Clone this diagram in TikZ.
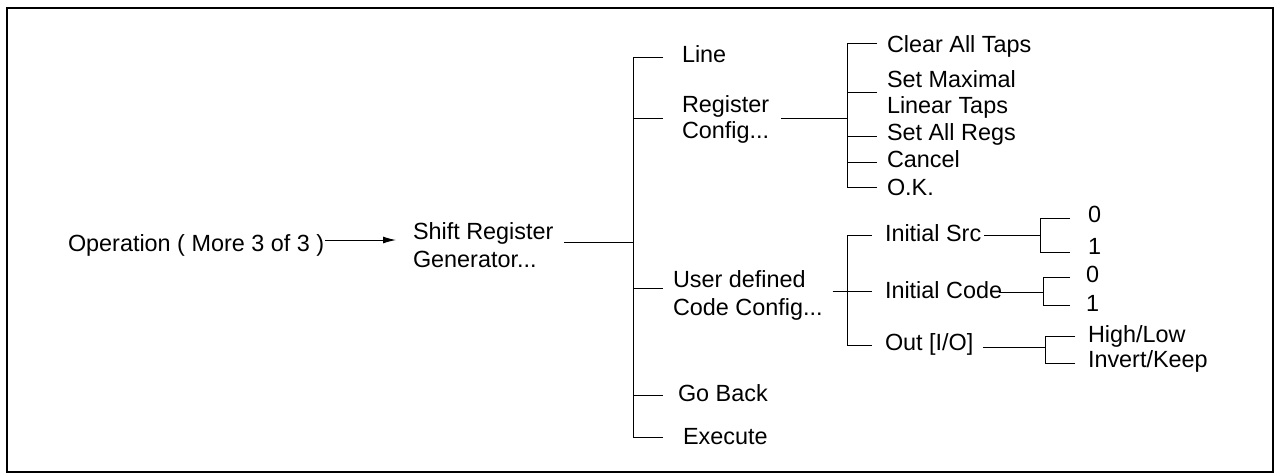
\documentclass[tikz,border=0pt]{standalone}
\usepackage{fontspec}
\setmainfont{Liberation Sans}
\usetikzlibrary{arrows.meta}
\begin{document}
\begin{tikzpicture}[x=1pt,y=-1pt,
  lbl/.style={anchor=base west,inner sep=0pt,outer sep=0pt,font=\fontsize{23.4}{26}\selectfont,align=left},
  wire/.style={line width=1pt,black}]
\useasboundingbox (0,0) rectangle (1280,475);
\draw[line width=2.5pt] (7,8) rectangle (1273,472);

% texts (base anchor of a multi-line node = baseline of its last line)
\node[lbl] (op) at (68,251) {Operation ( More 3 of 3 )};
\node[lbl,font=\fontsize{23.4}{28}\selectfont] (srg) at (413,267) {Shift Register\\Generator...};
\node[lbl] (ln) at (682,62) {Line};
\node[lbl] (reg) at (682,138) {Register\\Config...};
\node[lbl,font=\fontsize{23.4}{28}\selectfont] (udc) at (673,315) {User defined\\Code Config...};
\node[lbl] (gb) at (678,401) {Go Back};
\node[lbl] (ex) at (683,444) {Execute};

\node[lbl] (cat) at (887,52) {Clear All Taps};
\node[lbl] (smx) at (887,113) {Set Maximal\\Linear Taps};
\node[lbl] (sar) at (887,140) {Set All Regs};
\node[lbl] (can) at (887,167) {Cancel};
\node[lbl] (ok) at (887,195) {O.K.};

\node[lbl] (isrc) at (885,241) {Initial Src};
\node[lbl] (icode) at (885,298) {Initial Code};
\node[lbl] (out) at (885,350) {Out [I/O]};

\node[lbl] (s0) at (1088,222) {0};
\node[lbl] (s1) at (1088,254) {1};
\node[lbl] (c0) at (1086,282) {0};
\node[lbl] (c1) at (1086,311) {1};
\node[lbl] (hl) at (1088,342) {High/Low};
\node[lbl] (ik) at (1088,367) {Invert/Keep};

% arrow
\coordinate (arr) at (396,240);
\draw[wire,-{Latex[length=13pt,width=7pt]}] ([xshift=1pt]op.east |- arr) -- (arr);

% main bus
\coordinate (mb) at (633,242);
\draw[wire] ([xshift=11pt]srg.east |- mb) -- (mb);
\draw[wire] (663,57) -- (633,57) -- (633,437) -- (663,437);
\draw[wire] (633,118) -- (663,118);
\draw[wire] (633,288) -- (663,288);
\draw[wire] (633,395) -- (663,395);

% register config sub-bus
\coordinate (rb) at (847,118);
\draw[wire] ([xshift=12pt]reg.east |- rb) -- (rb);
\draw[wire] (877,43) -- (847,43) -- (847,187) -- (877,187);
\draw[wire] (847,92) -- (877,92);
\draw[wire] (847,136) -- (877,136);
\draw[wire] (847,162) -- (877,162);

% code config sub-bus
\coordinate (cb) at (847,291);
\draw[wire] ([xshift=10pt]udc.east |- cb) -- (cb);
\draw[wire] (872,235) -- (847,235) -- (847,345) -- (872,345);
\draw[wire] (847,291) -- (872,291);

% initial src
\coordinate (sb) at (1040,235);
\draw[wire] ([xshift=3pt]isrc.east |- sb) -- (sb);
\draw[wire] (1070,218) -- (1040,218) -- (1040,252) -- (1070,252);

% initial code
\coordinate (ib) at (1043,292);
\draw[wire] ([xshift=-3pt]icode.east |- ib) -- (ib);
\draw[wire] (1070,277) -- (1043,277) -- (1043,305) -- (1070,305);

% out
\coordinate (ob) at (1045,347);
\draw[wire] ([xshift=10pt]out.east |- ob) -- (ob);
\draw[wire] (1075,336) -- (1045,336) -- (1045,363) -- (1075,363);
\end{tikzpicture}
\end{document}
